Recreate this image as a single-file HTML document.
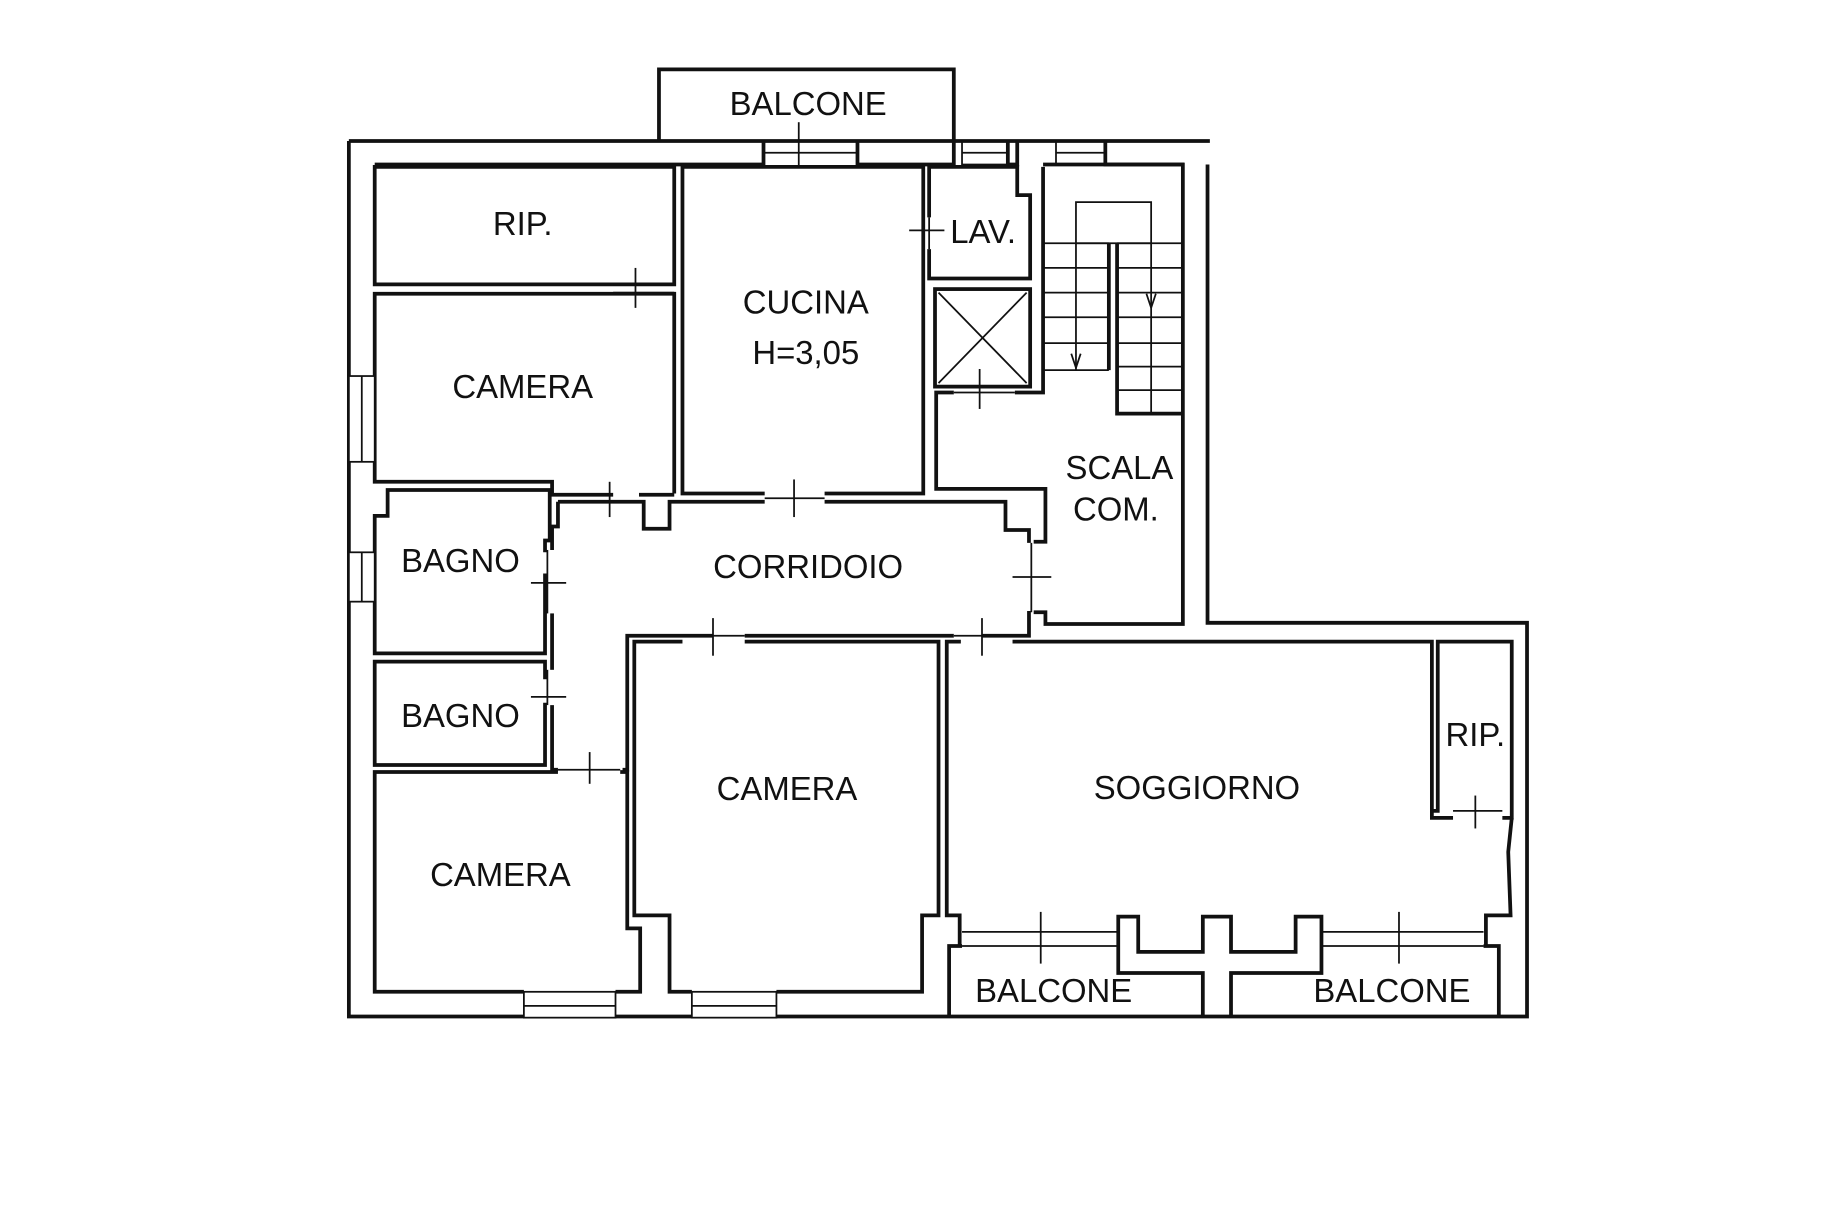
<!DOCTYPE html>
<html><head><meta charset="utf-8"><style>
html,body{margin:0;padding:0;background:#fff;}
svg{display:block}
text{font-family:"Liberation Sans",Arial,sans-serif;font-size:28px;fill:#111;text-anchor:middle;dominant-baseline:central}
</style></head><body>
<svg width="1843" height="1228" viewBox="0 0 1569 1045" preserveAspectRatio="none" xmlns="http://www.w3.org/2000/svg">
<rect width="1569" height="1045" fill="#fff"/>
<g fill="none" stroke="#111" stroke-width="3.2" stroke-linejoin="miter">
<polyline points="561,119 561,59 812,59 812,119"/>
<polyline points="297,120 1030,120"/>
<polyline points="297,120 297,865 1300,865 1300,530 1028,530 1028,140"/>
<polyline points="319,140 650,140 650,120"/>
<polyline points="730,120 730,140 812,140 812,120"/>
<polyline points="858,120 858,140 866,140 866,120"/>
<polyline points="941,120 941,140 1008,140"/>
<rect x="319" y="142" width="255" height="100"/>
<polyline points="574,420 574,250 319,250 319,410 470,410 470,421 522,421"/>
<polyline points="544,421 574,421"/>
<polyline points="651,420 581,420 581,142 786,142 786,420 702,420"/>
<polyline points="791,185 791,142 866,142 866,166 877,166 877,237 791,237 791,212"/>
<rect x="796" y="246" width="81" height="83"/>
<polyline points="888,140 1007,140 1007,531 890,531 890,521 880,521"/>
<polyline points="888,142 888,334 864,334"/>
<polyline points="812,334 797,334 797,416 890,416 890,461 880,461"/>
<polyline points="475,427 548,427 548,450 570,450 570,427 651,427"/>
<polyline points="702,427 856,427 856,451 876,451 876,462"/>
<polyline points="876,520 876,541 836,541"/>
<polyline points="812,541 634,541"/>
<polyline points="607,541 534,541 534,655 530,655"/>
<polyline points="475,427 475,448 470,448 470,468"/>
<polyline points="470,522 470,570"/>
<polyline points="470,600 470,655 475,655"/>
<polyline points="464,488 464,556 319,556 319,439 330,439 330,417 468,417 468,460 464,460 464,470"/>
<polyline points="464,578 464,563 319,563 319,651 464,651 464,598"/>
<polyline points="475,657 319,657 319,844 446,844"/>
<polyline points="524,844 545,844 545,790 534,790 534,657 528,657"/>
<polyline points="589,844 570,844 570,779 540,779 540,546 581,546"/>
<polyline points="634,546 799,546 799,779 785,779 785,844 661,844"/>
<polyline points="818,546 806,546 806,779 817,779 817,805"/>
<polyline points="862,546 1219,546 1219,690 1224,690 1224,546 1287,546 1287,696 1279,696"/>
<polyline points="1237,696 1219,696 1219,690"/>
<polyline points="1287,696 1284,725 1286,779 1265,779 1265,805"/>
<polyline points="808,865 808,805 819,805"/>
<polyline points="1024,865 1024,828 952,828 952,780 969,780 969,810 1024,810 1024,780 1048,780 1048,810 1103,810 1103,780 1125,780 1125,828 1048,828 1048,865"/>
<polyline points="1263,805 1276,805 1276,865"/>
</g>
<g fill="none" stroke="#111" stroke-width="1.5">
<line x1="650" y1="130" x2="730" y2="130"/><line x1="680" y1="104" x2="680" y2="142"/>
<rect x="819" y="120" width="39" height="20"/><line x1="819" y1="130" x2="858" y2="130"/>
<rect x="899" y="120" width="42" height="20"/><line x1="899" y1="130" x2="941" y2="130"/>
<rect x="297" y="320" width="22" height="73" fill="#fff"/><line x1="308" y1="320" x2="308" y2="393"/>
<rect x="297" y="470" width="22" height="42" fill="#fff"/><line x1="308" y1="470" x2="308" y2="512"/>
<rect x="446" y="844" width="78" height="22" fill="#fff"/><line x1="446" y1="856" x2="524" y2="856"/>
<rect x="589" y="844" width="72" height="22" fill="#fff"/><line x1="589" y1="856" x2="661" y2="856"/>
<line x1="819" y1="793" x2="952" y2="793"/><line x1="819" y1="805" x2="952" y2="805"/><line x1="886" y1="776" x2="886" y2="820"/>
<line x1="1125" y1="793" x2="1263" y2="793"/><line x1="1125" y1="805" x2="1263" y2="805"/><line x1="1191" y1="776" x2="1191" y2="820"/>
<line x1="522" y1="242" x2="574" y2="242"/><line x1="522" y1="249" x2="574" y2="249"/><line x1="541" y1="228" x2="541" y2="262"/>
<line x1="791" y1="185" x2="791" y2="212"/><line x1="774" y1="196" x2="804" y2="196"/>
<line x1="812" y1="334" x2="864" y2="334"/><line x1="834" y1="314" x2="834" y2="348"/>
<line x1="497" y1="427" x2="544" y2="427"/><line x1="519" y1="410" x2="519" y2="440"/>
<line x1="651" y1="424" x2="702" y2="424"/><line x1="676" y1="408" x2="676" y2="440"/>
<line x1="878" y1="462" x2="878" y2="521"/><line x1="862" y1="491" x2="895" y2="491"/>
<line x1="466" y1="468" x2="466" y2="522"/><line x1="452" y1="496" x2="482" y2="496"/>
<line x1="466" y1="570" x2="466" y2="600"/><line x1="452" y1="593" x2="482" y2="593"/>
<line x1="475" y1="655" x2="528" y2="655"/><line x1="502" y1="640" x2="502" y2="667"/>
<line x1="581" y1="541" x2="634" y2="541"/><line x1="607" y1="526" x2="607" y2="558"/>
<line x1="812" y1="541" x2="862" y2="541"/><line x1="836" y1="526" x2="836" y2="558"/>
<line x1="1237" y1="690" x2="1279" y2="690"/><line x1="1256" y1="677" x2="1256" y2="705"/>
<line x1="799" y1="249" x2="874" y2="326"/><line x1="874" y1="249" x2="799" y2="326"/>
<rect x="916" y="172" width="64" height="35"/>
<line x1="888" y1="207" x2="944" y2="207"/>
<line x1="951" y1="207" x2="1007" y2="207"/>
<line x1="888" y1="228" x2="944" y2="228"/><line x1="888" y1="249" x2="944" y2="249"/><line x1="888" y1="270" x2="944" y2="270"/><line x1="888" y1="292" x2="944" y2="292"/>
<line x1="888" y1="315" x2="944" y2="315"/>
<line x1="951" y1="228" x2="1007" y2="228"/><line x1="951" y1="249" x2="1007" y2="249"/><line x1="951" y1="270" x2="1007" y2="270"/><line x1="951" y1="292" x2="1007" y2="292"/><line x1="951" y1="312" x2="1007" y2="312"/><line x1="951" y1="332" x2="1007" y2="332"/><line x1="951" y1="352" x2="1007" y2="352"/>
<line x1="916" y1="207" x2="916" y2="315"/><polyline points="912,301 916,313 920,301"/>
<line x1="980" y1="207" x2="980" y2="352"/><polyline points="976,250 980,262 984,250"/>
</g>
<g fill="none" stroke="#111" stroke-width="3.2">
<polyline points="944,315 944,207"/>
<polyline points="951,207 951,352 1007,352"/>
</g>
<text x="688" y="88">BALCONE</text>
<text x="445" y="190">RIP.</text>
<text x="686" y="257">CUCINA</text>
<text x="686" y="300">H=3,05</text>
<text x="837" y="197">LAV.</text>
<text x="445" y="329">CAMERA</text>
<text x="953" y="398">SCALA</text>
<text x="950" y="433">COM.</text>
<text x="392" y="477">BAGNO</text>
<text x="688" y="482">CORRIDOIO</text>
<text x="392" y="609">BAGNO</text>
<text x="670" y="671">CAMERA</text>
<text x="1019" y="670">SOGGIORNO</text>
<text x="1256" y="625">RIP.</text>
<text x="426" y="744">CAMERA</text>
<text x="897" y="843">BALCONE</text>
<text x="1185" y="843">BALCONE</text>
</svg>
</body></html>
